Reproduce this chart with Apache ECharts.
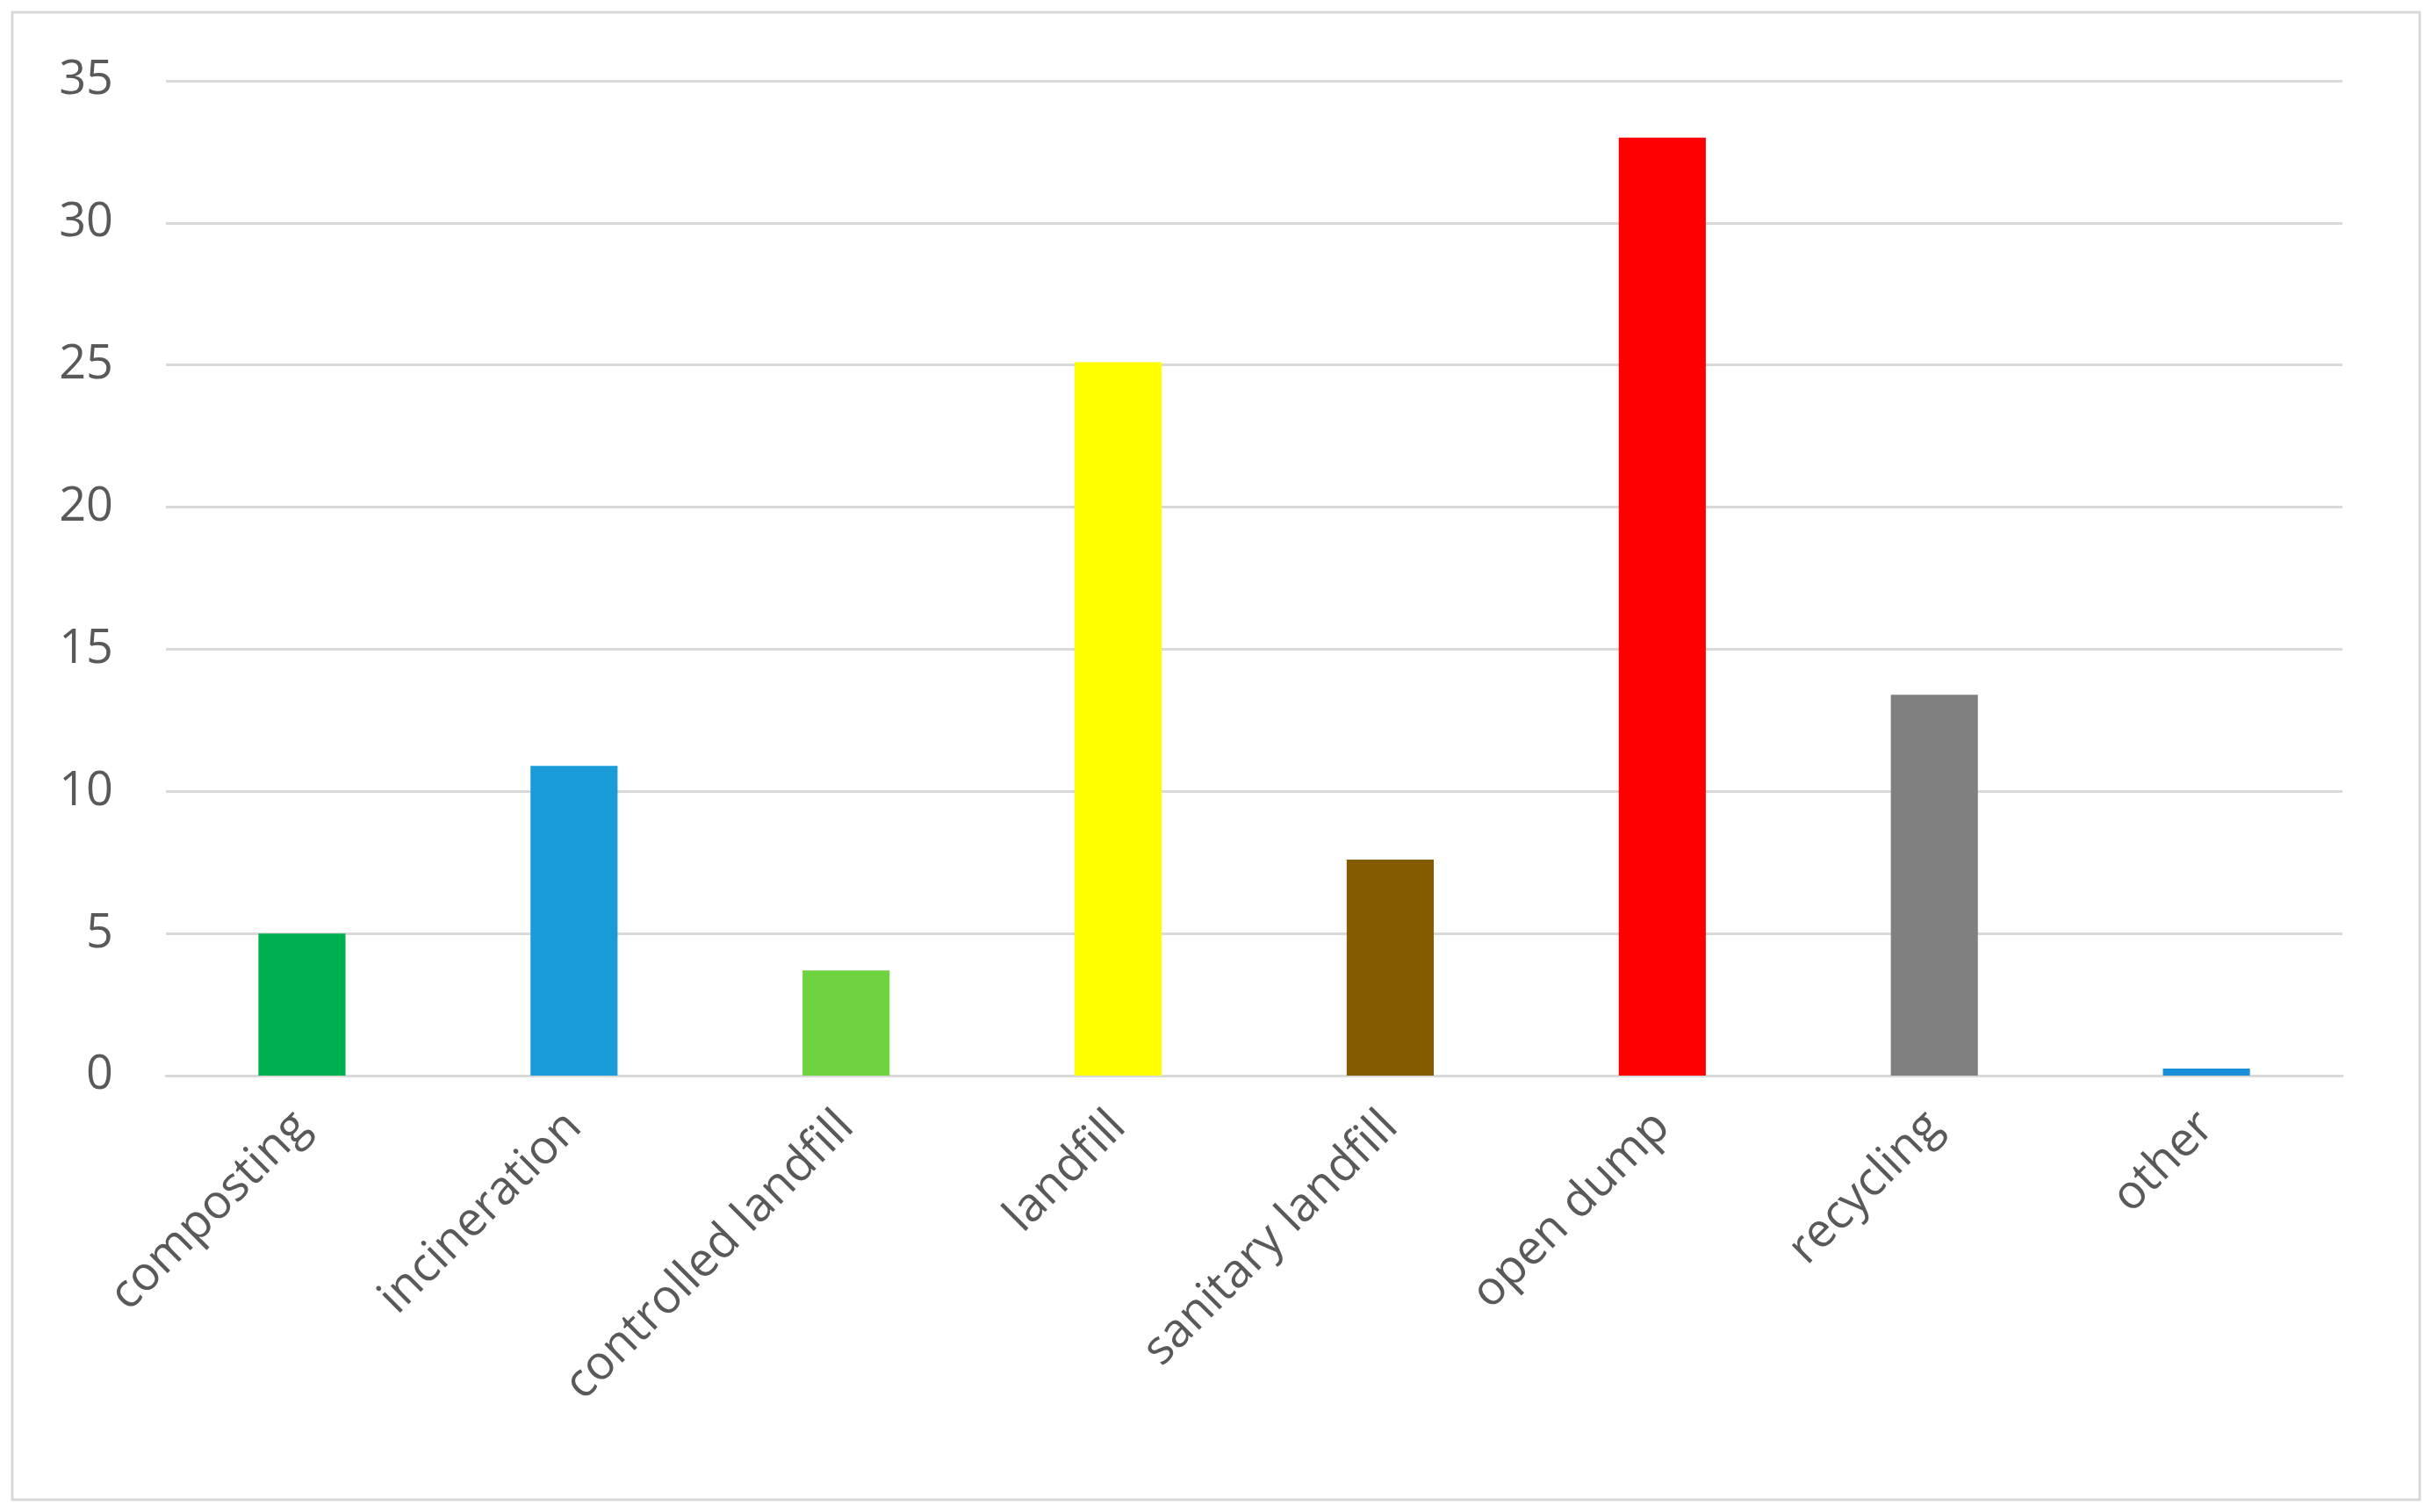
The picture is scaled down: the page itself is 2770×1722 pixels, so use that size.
<!DOCTYPE html>
<html><head><meta charset="utf-8">
<script src="https://cdn.jsdelivr.net/npm/echarts@6/dist/echarts.min.js"></script>
<style>html,body{margin:0;padding:0;background:#fff}#c{width:2770px;height:1722px}</style>
</head><body><div id="c"></div>
<script>
const categories=["composting","incineration","controlled landfill","landfill","sanitary landfill","open dump","recycling","other"];
const values=[5.0,10.9,3.7,25.1,7.6,33.0,13.4,0.25];
const colors=["#00b050","#1a9cd8","#6dd440","#ffff00","#855b00","#ff0000","#808080","#1a8fd8"];
const chart=echarts.init(document.getElementById('c'));
chart.setOption({
 animation:false,
 graphic:[{type:'rect',shape:{x:14,y:14,width:2742,height:1694},style:{fill:'none',stroke:'#d9d9d9',lineWidth:3}}],
 grid:{left:189,right:102,top:92,bottom:497},
 xAxis:{type:'category',data:categories,axisTick:{show:false},
  axisLine:{lineStyle:{color:'#d9d9d9',width:3}},
  axisLabel:{rotate:45,fontSize:54,color:'#595959',fontFamily:'Open Sans',margin:50,interval:0}},
 yAxis:{type:'value',min:0,max:35,interval:5,
  axisLabel:{fontSize:54,color:'#595959',fontFamily:'Open Sans',margin:60},
  splitLine:{lineStyle:{color:'#d9d9d9',width:3}}},
 series:[{type:'bar',barWidth:'32%',data:values.map((v,i)=>({value:v,itemStyle:{color:colors[i]}}))}]
});
</script></body></html>
